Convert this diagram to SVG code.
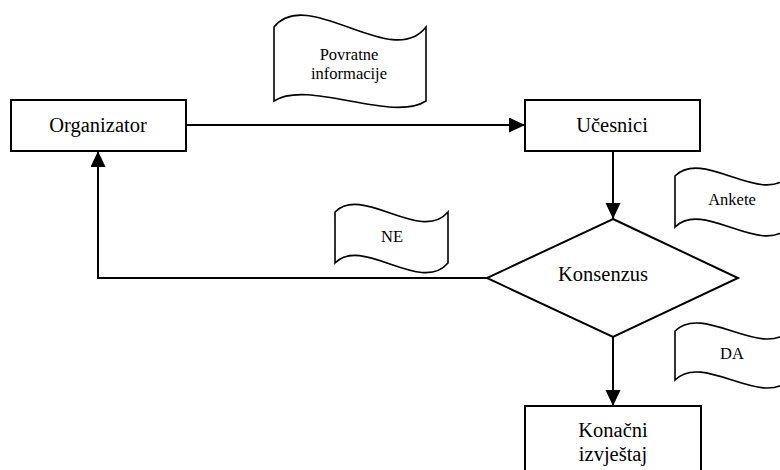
<svg xmlns="http://www.w3.org/2000/svg" width="780" height="470" viewBox="0 0 780 470">
<style>
.box{fill:#fff;stroke:#000;stroke-width:2}
.tape{fill:#fff;stroke:#000;stroke-width:1.6}
.edge{fill:none;stroke:#000;stroke-width:2}
text{fill:#000;text-anchor:middle;font-family:"Liberation Serif","Times New Roman",serif}
.lbl{font-size:20.5px}
.sm{font-size:16.5px}
</style>
<defs>
<marker id="arr" markerUnits="userSpaceOnUse" markerWidth="16" markerHeight="16" refX="16" refY="7.5" orient="auto">
<path d="M0,0 L16,7.5 L0,15 Z" fill="#000"/>
</marker>
</defs>
<rect width="780" height="470" fill="#fff"/>
<g id="connectors">
<path class="edge" d="M186,125 H525" marker-end="url(#arr)"/>
<path class="edge" d="M613,151 V219" marker-end="url(#arr)"/>
<path class="edge" d="M613,337 V406" marker-end="url(#arr)"/>
<path class="edge" d="M487,278 H98 V151" marker-end="url(#arr)"/>
</g>
<g id="organizator">
<rect class="box" x="11" y="100" width="175" height="51"/>
<text class="lbl" x="98" y="132">Organizator</text>
</g>
<g id="ucesnici">
<rect class="box" x="525" y="100" width="175" height="51"/>
<text class="lbl" x="612" y="132">Učesnici</text>
</g>
<g id="konsenzus">
<path class="box" d="M613,219 L738,278 L613,337 L487,278 Z"/>
<text class="lbl" x="603" y="281">Konsenzus</text>
</g>
<g id="konacni">
<rect class="box" x="525" y="406" width="176" height="70"/>
<text class="lbl" x="613" y="437">Konačni</text>
<text class="lbl" x="613" y="461">izvještaj</text>
</g>
<g id="povratne">
<path class="tape" d="M274,27 C308,-15 392,71 426,27 L426,101 C392,123 308,79 274,101 Z"/>
<text class="sm" x="349" y="60">Povratne</text>
<text class="sm" x="349" y="79">informacije</text>
</g>
<g id="ankete">
<path class="tape" d="M675,176 C703,148 761,206 789,176 L789,227 C761,257 703,199 675,227 Z"/>
<text class="sm" x="732" y="205">Ankete</text>
</g>
<g id="da">
<path class="tape" d="M675,331 C703,303 761,359 789,331 L789,380 C761,408 703,352 675,380 Z"/>
<text class="sm" x="732" y="359">DA</text>
</g>
<g id="ne">
<path class="tape" d="M335,212 C362,184 421,244 448,212 L448,263 C421,295 362,235 335,263 Z"/>
<text class="sm" x="392" y="242">NE</text>
</g>
</svg>
